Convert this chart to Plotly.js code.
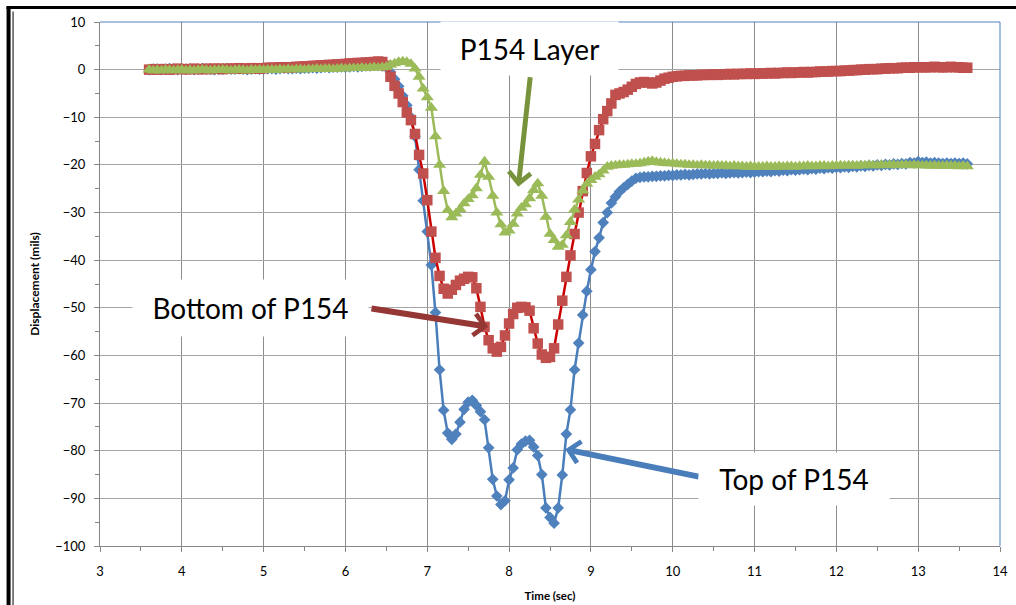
<!DOCTYPE html>
<html>
<head>
<meta charset="utf-8">
<script src="https://cdn.plot.ly/plotly-3.0.1.min.js"></script>
<style>
  html, body { margin: 0; padding: 0; background: #fff; }
  #chart { width: 1016px; height: 605px; }
</style>
</head>
<body>
<div id="chart"></div>
<script>
// samples every 0.05 sec starting at 3.6 sec
const startTime = 3.6;
const timeStep = 0.05;

// Top of P154 (mils)
const topP154 = [
  0.0, 0.1, 0.1, 0.0, 0.1, 0.2, 0.1, 0.0, 0.1, 0.1,
  0.1, 0.0, 0.1, 0.2, 0.1, 0.1, 0.0, 0.1, 0.1, 0.2,
  0.1, 0.1, 0.2, 0.1, 0.0, 0.1, 0.2, 0.1, 0.1, 0.2,
  0.2, 0.1, 0.2, 0.3, 0.2, 0.2, 0.3, 0.2, 0.3, 0.3,
  0.4, 0.3, 0.4, 0.5, 0.4, 0.5, 0.5, 0.6, 0.5, 0.6,
  0.7, 0.6, 0.7, 0.8, 0.8, 0.9, 0.9, 0.8, 0.5, -0.5,
  -2.0, -3.5, -5.5, -7.5, -10.0, -14.0, -21.0, -27.5, -34.0, -41.0,
  -51.0, -63.0, -71.5, -76.3, -77.6, -76.5, -74.0, -71.3, -69.8, -69.4,
  -70.5, -71.8, -73.5, -79.4, -86.0, -89.5, -91.3, -90.5, -86.1, -83.6,
  -79.8, -78.6, -78.0, -77.8, -79.2, -81.0, -85.0, -92.0, -94.0, -95.2,
  -92.0, -85.1, -76.5, -71.4, -63.0, -57.4, -51.5, -46.5, -42.0, -38.2,
  -35.3, -32.1, -30.0, -28.0, -26.7, -25.6, -24.8, -24.1, -23.4, -22.8,
  -22.6, -22.5, -22.5, -22.4, -22.4, -22.3, -22.3, -22.2, -22.2, -22.1,
  -22.1, -22.0, -22.1, -22.0, -21.9, -21.9, -21.8, -21.9, -21.8, -21.8,
  -21.7, -21.8, -21.7, -21.6, -21.7, -21.6, -21.5, -21.6, -21.5, -21.4,
  -21.4, -21.3, -21.4, -21.2, -21.3, -21.1, -21.2, -21.0, -21.1, -21.0,
  -20.9, -21.0, -20.8, -20.9, -20.7, -20.8, -20.6, -20.7, -20.5, -20.6,
  -20.4, -20.5, -20.3, -20.4, -20.2, -20.3, -20.1, -20.2, -20.0, -20.1,
  -19.9, -20.0, -19.8, -19.9, -19.7, -19.8, -19.5, -19.6, -19.3, -19.5,
  -19.4, -19.6, -19.5, -19.6, -19.7, -19.6, -19.7, -19.6, -19.7, -19.6,
  -19.8
];

// Bottom of P154 (mils)
const bottomP154 = [
  0.0, 0.1, 0.0, 0.1, 0.1, 0.0, 0.1, 0.2, 0.1, 0.1,
  0.1, 0.2, 0.1, 0.1, 0.2, 0.1, 0.2, 0.2, 0.1, 0.2,
  0.2, 0.2, 0.3, 0.2, 0.2, 0.3, 0.3, 0.2, 0.3, 0.4,
  0.4, 0.4, 0.5, 0.5, 0.4, 0.5, 0.6, 0.6, 0.7, 0.7,
  0.8, 0.8, 0.9, 0.9, 1.0, 1.0, 1.1, 1.1, 1.2, 1.3,
  1.3, 1.4, 1.4, 1.5, 1.5, 1.6, 1.7, 1.6, 0.8, -1.5,
  -3.4, -5.0, -6.8, -9.0, -10.6, -13.5, -17.9, -21.8, -27.4, -34.0,
  -39.5, -43.3, -46.0, -47.0, -46.2, -45.2, -44.3, -43.9, -43.5, -43.6,
  -45.9, -49.8, -54.0, -56.8, -58.5, -59.2, -58.2, -55.8, -53.3, -51.3,
  -50.0, -49.8, -49.9, -50.6, -54.3, -57.5, -59.8, -60.5, -60.3, -58.5,
  -53.5, -48.5, -43.5, -39.0, -34.5, -30.0, -25.5, -21.7, -18.2, -15.6,
  -12.7, -10.4, -8.7, -7.1, -5.3, -5.0, -4.7, -4.2, -3.6, -3.0,
  -2.7, -2.6, -2.7, -2.9, -2.7, -2.3, -1.9, -1.7, -1.5, -1.4,
  -1.3, -1.3, -1.2, -1.2, -1.2, -1.1, -1.1, -1.1, -1.0, -1.1,
  -1.0, -1.0, -0.9, -1.0, -0.9, -0.9, -0.9, -0.8, -0.9, -0.8,
  -0.8, -0.8, -0.7, -0.8, -0.7, -0.7, -0.6, -0.7, -0.6, -0.6,
  -0.5, -0.6, -0.5, -0.5, -0.4, -0.4, -0.4, -0.3, -0.3, -0.3,
  -0.2, -0.2, -0.1, -0.1, 0.0, 0.0, 0.1, 0.1, 0.1, 0.2,
  0.2, 0.3, 0.3, 0.3, 0.4, 0.4, 0.4, 0.5, 0.5, 0.5,
  0.5, 0.5, 0.6, 0.5, 0.5, 0.5, 0.6, 0.5, 0.5, 0.4,
  0.4
];

// P154 Layer (mils)
const layerP154 = [
  0.0, -0.2, -0.1, -0.2, 0.0, -0.1, -0.2, -0.1, 0.0, -0.2,
  -0.1, -0.2, -0.1, 0.0, -0.1, -0.2, -0.1, -0.1, 0.0, -0.1,
  -0.2, -0.1, 0.0, -0.1, -0.2, 0.0, -0.1, 0.0, -0.1, 0.0,
  0.0, -0.1, 0.1, 0.0, 0.1, 0.0, 0.1, 0.1, 0.0, 0.1,
  0.1, 0.2, 0.1, 0.2, 0.2, 0.1, 0.2, 0.3, 0.2, 0.3,
  0.3, 0.3, 0.4, 0.3, 0.4, 0.5, 0.4, 0.5, 0.6, 1.0,
  1.3, 1.6, 1.7, 1.6, 1.2, 0.2, -1.5, -4.0, -5.8, -8.0,
  -14.0, -20.0, -25.5, -29.5, -31.0, -30.2, -29.3, -28.1, -27.2, -26.4,
  -24.9, -22.1, -19.3, -22.5, -26.5, -30.0, -32.5, -34.2, -33.8, -32.4,
  -30.2, -29.0, -28.3, -27.0, -25.3, -23.9, -26.5, -30.9, -34.5, -35.8,
  -37.2, -36.8, -34.8, -32.0, -29.4, -27.3, -25.4, -24.0, -23.2, -22.5,
  -22.0, -21.2, -20.4, -20.2, -20.1, -20.0, -20.0, -19.9, -19.8, -19.8,
  -19.7, -19.5, -19.3, -19.2, -19.4, -19.5, -19.6, -19.7, -19.7, -19.8,
  -19.9, -19.9, -20.0, -20.0, -20.1, -20.0, -20.1, -20.1, -20.2, -20.1,
  -20.2, -20.2, -20.3, -20.2, -20.3, -20.3, -20.4, -20.3, -20.4, -20.4,
  -20.4, -20.3, -20.4, -20.4, -20.3, -20.4, -20.3, -20.3, -20.4, -20.3,
  -20.3, -20.2, -20.3, -20.3, -20.2, -20.2, -20.3, -20.2, -20.2, -20.1,
  -20.2, -20.1, -20.1, -20.2, -20.1, -20.1, -20.0, -20.1, -20.1, -20.0,
  -20.1, -20.0, -20.0, -20.1, -20.0, -20.0, -20.1, -20.0, -20.1, -20.1,
  -20.1, -20.2, -20.1, -20.2, -20.2, -20.1, -20.2, -20.2, -20.3, -20.2,
  -20.3
];

const time = topP154.map((v, i) => +(startTime + i * timeStep).toFixed(2));

const labelFont = 'Lato, "Liberation Sans", sans-serif';

const traceTop = {
  x: time,
  y: topP154,
  type: 'scatter',
  mode: 'lines+markers',
  name: 'Top of P154',
  line: { color: '#4A7EBB', width: 2.5 },
  marker: { symbol: 'diamond', size: 9, color: '#4F81BD' },
};
const traceBottom = {
  x: time,
  y: bottomP154,
  type: 'scatter',
  mode: 'lines+markers',
  name: 'Bottom of P154',
  line: { color: '#CC0000', width: 2.5 },
  marker: { symbol: 'square', size: 10.5, color: '#C0504D' },
};
const traceLayer = {
  x: time,
  y: layerP154,
  type: 'scatter',
  mode: 'lines+markers',
  name: 'P154 Layer',
  line: { color: '#9BBB59', width: 2.5 },
  marker: { symbol: 'triangle-up', size: 11.5, color: '#9BBB59' },
};

// label box + separate arrow (tail -> head in data coords)
const label = (text, x, y, w, h) => ({
  x, y, xref: 'x', yref: 'y', text, showarrow: false,
  font: { family: labelFont, size: 28, color: '#000' },
  bgcolor: '#fff', width: w, height: h, borderpad: 0,
});
const arrow = (x0, y0, x1, y1, color, width, size) => ({
  x: x1, y: y1, ax: x0, ay: y0,
  xref: 'x', yref: 'y', axref: 'x', ayref: 'y',
  text: '', showarrow: true, arrowhead: 4, arrowsize: size,
  arrowwidth: width, arrowcolor: color, standoff: 0,
  font: { size: 1 },
});

const layout = {
  width: 1016,
  height: 605,
  margin: { l: 99.5, r: 16, t: 22, b: 59 },
  paper_bgcolor: '#fff',
  plot_bgcolor: '#fff',
  showlegend: false,
  xaxis: {
    range: [3, 14],
    dtick: 1,
    showgrid: true,
    gridcolor: '#8c8c8c',
    zeroline: false,
    showline: true,
    linecolor: '#868686',
    ticks: 'outside',
    ticklen: 5,
    tickcolor: '#868686',
    ticklabelstandoff: 8,
    minor: { dtick: 0.5, ticks: 'outside', ticklen: 4, tickcolor: '#868686', showgrid: false },
    tickfont: { family: labelFont, size: 13, color: '#000' },
    title: { text: 'Time (sec)', font: { family: labelFont, size: 11.5, color: '#000', weight: 'bold' }, standoff: 14 },
  },
  yaxis: {
    range: [-100, 10],
    dtick: 10,
    showgrid: true,
    gridcolor: '#a6a6a6',
    zeroline: false,
    showline: true,
    linecolor: '#868686',
    ticks: 'outside',
    ticklen: 5,
    tickcolor: '#868686',
    ticklabelstandoff: 6,
    minor: { dtick: 5, ticks: 'outside', ticklen: 4, tickcolor: '#868686', showgrid: false },
    tickfont: { family: labelFont, size: 13, color: '#000' },
    title: { text: 'Displacement (mils)', font: { family: labelFont, size: 12, color: '#000', weight: 'bold' }, standoff: 13 },
  },
  shapes: [
    // blue plot-area border on top and right
    { type: 'line', xref: 'paper', yref: 'paper', x0: 0, x1: 1, y0: 1, y1: 1, line: { color: '#4F81BD', width: 1 } },
    { type: 'line', xref: 'paper', yref: 'paper', x0: 1, x1: 1, y0: 0, y1: 1, line: { color: '#4F81BD', width: 1 } },
    // outer chart frame (left and top)
    { type: 'line', xref: 'paper', yref: 'paper', x0: -0.1016, x1: -0.1016, y0: 1.028, y1: -0.2, line: { color: '#000', width: 4 } },
    { type: 'line', xref: 'paper', yref: 'paper', x0: -0.0966, x1: -0.0966, y0: 1.02, y1: -0.2, line: { color: '#000', width: 1 } },
    { type: 'line', xref: 'paper', yref: 'paper', x0: -0.104, x1: 1.1, y0: 1.0277, y1: 1.0277, line: { color: '#000', width: 3 } },
  ],
  annotations: [
    arrow(8.26, -1.3, 8.112, -24.6, '#77933C', 5, 0.85),
    arrow(6.30, -50.1, 7.746, -54.0, '#953735', 6, 0.7),
    arrow(10.336, -85.5, 8.687, -79.7, '#4A7EBB', 6, 0.7),
    label('P154 Layer', 8.247, 4.5, 177, 53),
    label('Bottom of P154', 4.845, -50.0, 235, 56),
    label('Top of P154', 11.484, -85.9, 190, 52),
  ],
};

Plotly.newPlot('chart', [traceTop, traceBottom, traceLayer], layout, { displayModeBar: false, staticPlot: true });
</script>
</body>
</html>
